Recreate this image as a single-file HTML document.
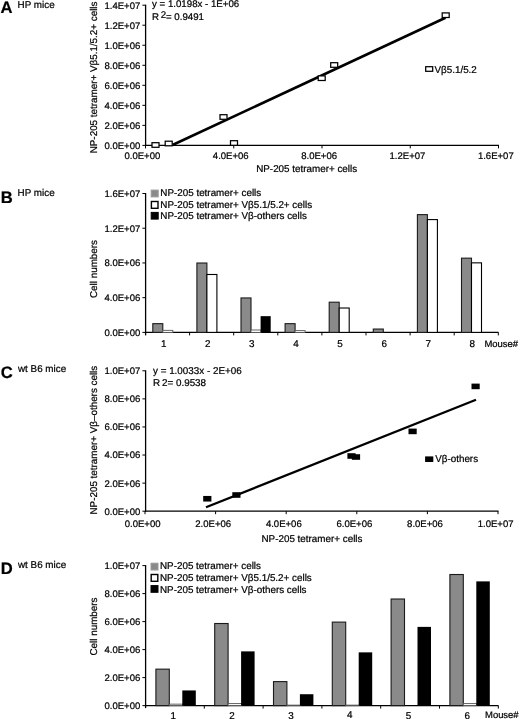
<!DOCTYPE html>
<html><head><meta charset="utf-8"><title>Figure</title>
<style>
html,body{margin:0;padding:0;background:#fff;}
body{width:520px;height:719px;overflow:hidden;}
svg{display:block;filter:blur(0.3px);text-rendering:geometricPrecision;font-family:"Liberation Sans",Arial,Helvetica,sans-serif;fill:#000;}
text{stroke:#000;stroke-width:0.22px;}
</style></head><body>
<svg width="520" height="719" viewBox="0 0 520 719">
<rect x="0" y="0" width="520" height="719" fill="#fff"/>
<text x="0.6" y="12.6" font-size="16.6" text-anchor="start" font-weight="bold">A</text>
<text x="17.6" y="7.6" font-size="9.85" text-anchor="start">HP mice</text>
<line x1="145.6" y1="4.7" x2="145.6" y2="146.0" stroke="#000" stroke-width="1.3"/>
<line x1="142.4" y1="145.40" x2="145.6" y2="145.40" stroke="#000" stroke-width="1"/>
<text x="140.3" y="148.8" font-size="9.55" text-anchor="end">0.0E+00</text>
<line x1="142.4" y1="125.37" x2="145.6" y2="125.37" stroke="#000" stroke-width="1"/>
<text x="140.3" y="128.77" font-size="9.55" text-anchor="end">2.0E+06</text>
<line x1="142.4" y1="105.34" x2="145.6" y2="105.34" stroke="#000" stroke-width="1"/>
<text x="140.3" y="108.74" font-size="9.55" text-anchor="end">4.0E+06</text>
<line x1="142.4" y1="85.31" x2="145.6" y2="85.31" stroke="#000" stroke-width="1"/>
<text x="140.3" y="88.71" font-size="9.55" text-anchor="end">6.0E+06</text>
<line x1="142.4" y1="65.29" x2="145.6" y2="65.29" stroke="#000" stroke-width="1"/>
<text x="140.3" y="68.69" font-size="9.55" text-anchor="end">8.0E+06</text>
<line x1="142.4" y1="45.26" x2="145.6" y2="45.26" stroke="#000" stroke-width="1"/>
<text x="140.3" y="48.66" font-size="9.55" text-anchor="end">1.0E+06</text>
<line x1="142.4" y1="25.23" x2="145.6" y2="25.23" stroke="#000" stroke-width="1"/>
<text x="140.3" y="28.63" font-size="9.55" text-anchor="end">1.2E+07</text>
<line x1="142.4" y1="5.20" x2="145.6" y2="5.20" stroke="#000" stroke-width="1"/>
<text x="140.3" y="8.6" font-size="9.55" text-anchor="end">1.4E+07</text>
<line x1="145.0" y1="145.4" x2="499" y2="145.4" stroke="#000" stroke-width="1.3"/>
<line x1="145.50" y1="145.4" x2="145.50" y2="148.4" stroke="#000" stroke-width="1"/>
<text x="142.4" y="158.5" font-size="9.55" text-anchor="middle">0.0E+00</text>
<line x1="233.75" y1="145.4" x2="233.75" y2="148.4" stroke="#000" stroke-width="1"/>
<text x="230.75" y="158.5" font-size="9.55" text-anchor="middle">4.0E+06</text>
<line x1="322.00" y1="145.4" x2="322.00" y2="148.4" stroke="#000" stroke-width="1"/>
<text x="319.1" y="158.5" font-size="9.55" text-anchor="middle">8.0E+06</text>
<line x1="410.25" y1="145.4" x2="410.25" y2="148.4" stroke="#000" stroke-width="1"/>
<text x="407.45" y="158.5" font-size="9.55" text-anchor="middle">1.2E+07</text>
<line x1="498.50" y1="145.4" x2="498.50" y2="148.4" stroke="#000" stroke-width="1"/>
<text x="495.8" y="158.5" font-size="9.55" text-anchor="middle">1.6E+07</text>
<text x="256.2" y="171.5" font-size="9.85" text-anchor="start">NP-205 tetramer+ cells</text>
<text transform="translate(96.8,153.3) rotate(-90)" font-size="9.85" text-anchor="start">NP-205 tetramer+ Vβ5.1/5.2+ cells</text>
<text x="152" y="7" font-size="9.7" text-anchor="start">y = 1.0198x - 1E+06</text>
<text x="152" y="20" font-size="9.7" text-anchor="start">R</text>
<text x="160.8" y="18" font-size="9.7" text-anchor="start">2</text>
<text x="166" y="20" font-size="9.7" text-anchor="start">= 0.9491</text>
<line x1="172.5" y1="145" x2="445.5" y2="17.8" stroke="#000" stroke-width="2.6"/>
<rect x="152.00" y="142.70" width="7" height="4.6" fill="#fff" stroke="#000" stroke-width="1.25"/>
<rect x="165.20" y="141.20" width="7" height="4.6" fill="#fff" stroke="#000" stroke-width="1.25"/>
<rect x="220.00" y="114.70" width="7" height="4.6" fill="#fff" stroke="#000" stroke-width="1.25"/>
<rect x="230.50" y="140.70" width="7" height="4.6" fill="#fff" stroke="#000" stroke-width="1.25"/>
<rect x="318.20" y="75.90" width="7" height="4.6" fill="#fff" stroke="#000" stroke-width="1.25"/>
<rect x="330.70" y="62.70" width="7" height="4.6" fill="#fff" stroke="#000" stroke-width="1.25"/>
<rect x="442.20" y="12.90" width="7" height="4.6" fill="#fff" stroke="#000" stroke-width="1.25"/>
<rect x="425.70" y="66.70" width="7" height="4.6" fill="#fff" stroke="#000" stroke-width="1.25"/>
<text x="434.5" y="72.5" font-size="9.85" text-anchor="start">Vβ5.1/5.2</text>
<text x="0.8" y="202.6" font-size="16.6" text-anchor="start" font-weight="bold">B</text>
<text x="17.6" y="195.5" font-size="9.85" text-anchor="start">HP mice</text>
<line x1="145.6" y1="193.0" x2="145.6" y2="335.4" stroke="#000" stroke-width="1.3"/>
<line x1="142.4" y1="332.40" x2="145.6" y2="332.40" stroke="#000" stroke-width="1"/>
<text x="140.3" y="335.8" font-size="9.55" text-anchor="end">0.0E+00</text>
<line x1="142.4" y1="297.67" x2="145.6" y2="297.67" stroke="#000" stroke-width="1"/>
<text x="140.3" y="301.07" font-size="9.55" text-anchor="end">4.0E+06</text>
<line x1="142.4" y1="262.95" x2="145.6" y2="262.95" stroke="#000" stroke-width="1"/>
<text x="140.3" y="266.35" font-size="9.55" text-anchor="end">8.0E+06</text>
<line x1="142.4" y1="228.22" x2="145.6" y2="228.22" stroke="#000" stroke-width="1"/>
<text x="140.3" y="231.62" font-size="9.55" text-anchor="end">1.2E+07</text>
<line x1="142.4" y1="193.50" x2="145.6" y2="193.50" stroke="#000" stroke-width="1"/>
<text x="140.3" y="196.9" font-size="9.55" text-anchor="end">1.6E+07</text>
<line x1="145.0" y1="332.4" x2="498.5" y2="332.4" stroke="#000" stroke-width="1.3"/>
<line x1="189.60" y1="332.4" x2="189.60" y2="335.4" stroke="#000" stroke-width="1"/>
<rect x="152.80" y="323.66" width="10.00" height="8.74" fill="#8a8a8a" stroke="#1a1a1a" stroke-width="1.1"/>
<rect x="162.80" y="330.35" width="10.00" height="2.05" fill="#fff" stroke="#555" stroke-width="0.9"/>
<line x1="233.70" y1="332.4" x2="233.70" y2="335.4" stroke="#000" stroke-width="1"/>
<rect x="196.90" y="263.02" width="10.00" height="69.38" fill="#8a8a8a" stroke="#1a1a1a" stroke-width="1.1"/>
<rect x="206.90" y="274.49" width="10.00" height="57.91" fill="#fff" stroke="#000" stroke-width="1.1"/>
<line x1="277.80" y1="332.4" x2="277.80" y2="335.4" stroke="#000" stroke-width="1"/>
<rect x="241.00" y="297.95" width="10.00" height="34.45" fill="#8a8a8a" stroke="#1a1a1a" stroke-width="1.1"/>
<rect x="251.00" y="330.00" width="10.00" height="2.40" fill="#fff" stroke="#555" stroke-width="0.9"/>
<rect x="260.60" y="316.16" width="10.10" height="16.24" fill="#000"/>
<line x1="321.90" y1="332.4" x2="321.90" y2="335.4" stroke="#000" stroke-width="1"/>
<rect x="285.10" y="323.66" width="10.00" height="8.74" fill="#8a8a8a" stroke="#1a1a1a" stroke-width="1.1"/>
<rect x="295.10" y="330.61" width="10.00" height="1.79" fill="#fff" stroke="#555" stroke-width="0.9"/>
<line x1="366.00" y1="332.4" x2="366.00" y2="335.4" stroke="#000" stroke-width="1"/>
<rect x="329.20" y="302.20" width="10.00" height="30.20" fill="#8a8a8a" stroke="#1a1a1a" stroke-width="1.1"/>
<rect x="339.20" y="308.02" width="10.00" height="24.38" fill="#fff" stroke="#000" stroke-width="1.1"/>
<line x1="410.10" y1="332.4" x2="410.10" y2="335.4" stroke="#000" stroke-width="1"/>
<rect x="373.30" y="329.05" width="10.00" height="3.35" fill="#8a8a8a" stroke="#1a1a1a" stroke-width="1.1"/>
<line x1="454.20" y1="332.4" x2="454.20" y2="335.4" stroke="#000" stroke-width="1"/>
<rect x="417.40" y="214.63" width="10.00" height="117.77" fill="#8a8a8a" stroke="#1a1a1a" stroke-width="1.1"/>
<rect x="427.40" y="219.59" width="10.00" height="112.81" fill="#fff" stroke="#000" stroke-width="1.1"/>
<line x1="498.30" y1="332.4" x2="498.30" y2="335.4" stroke="#000" stroke-width="1"/>
<rect x="461.50" y="258.16" width="10.00" height="74.24" fill="#8a8a8a" stroke="#1a1a1a" stroke-width="1.1"/>
<rect x="471.50" y="262.85" width="10.00" height="69.55" fill="#fff" stroke="#000" stroke-width="1.1"/>
<text x="163.65" y="347.2" font-size="9.85" text-anchor="middle">1</text>
<text x="207.75" y="347.2" font-size="9.85" text-anchor="middle">2</text>
<text x="251.85" y="347.2" font-size="9.85" text-anchor="middle">3</text>
<text x="295.95" y="347.2" font-size="9.85" text-anchor="middle">4</text>
<text x="340.05" y="347.2" font-size="9.85" text-anchor="middle">5</text>
<text x="384.15" y="347.2" font-size="9.85" text-anchor="middle">6</text>
<text x="428.25" y="347.2" font-size="9.85" text-anchor="middle">7</text>
<text x="472.35" y="347.2" font-size="9.85" text-anchor="middle">8</text>
<text x="518" y="347.2" font-size="9.45" text-anchor="end">Mouse#</text>
<text transform="translate(96.8,298) rotate(-90)" font-size="9.85" text-anchor="start">Cell numbers</text>
<rect x="151.2" y="190.1" width="7" height="6.8" fill="#8a8a8a" stroke="#999" stroke-width="1"/>
<text x="160.3" y="195.8" font-size="9.85" text-anchor="start">NP-205 tetramer+ cells</text>
<rect x="151.39999999999998" y="201.5" width="6.6" height="6.799999999999999" fill="#fff" stroke="#000" stroke-width="1.4"/>
<text x="160.3" y="207.6" font-size="9.85" text-anchor="start">NP-205 tetramer+ Vβ5.1/5.2+ cells</text>
<rect x="151.2" y="212.4" width="7" height="6.7" fill="#000" stroke="#000" stroke-width="1"/>
<text x="160.3" y="219.2" font-size="9.85" text-anchor="start">NP-205 tetramer+ Vβ-others cells</text>
<text x="0.8" y="377.8" font-size="16.6" text-anchor="start" font-weight="bold">C</text>
<text x="18" y="372" font-size="9.85" text-anchor="start">wt B6 mice</text>
<line x1="145.6" y1="370.3" x2="145.6" y2="511.8" stroke="#000" stroke-width="1.3"/>
<line x1="142.4" y1="511.20" x2="145.6" y2="511.20" stroke="#000" stroke-width="1"/>
<text x="140.3" y="514.6" font-size="9.55" text-anchor="end">0.0E+00</text>
<line x1="142.4" y1="483.12" x2="145.6" y2="483.12" stroke="#000" stroke-width="1"/>
<text x="140.3" y="486.52" font-size="9.55" text-anchor="end">2.0E+06</text>
<line x1="142.4" y1="455.04" x2="145.6" y2="455.04" stroke="#000" stroke-width="1"/>
<text x="140.3" y="458.44" font-size="9.55" text-anchor="end">4.0E+06</text>
<line x1="142.4" y1="426.96" x2="145.6" y2="426.96" stroke="#000" stroke-width="1"/>
<text x="140.3" y="430.36" font-size="9.55" text-anchor="end">6.0E+06</text>
<line x1="142.4" y1="398.88" x2="145.6" y2="398.88" stroke="#000" stroke-width="1"/>
<text x="140.3" y="402.28" font-size="9.55" text-anchor="end">8.0E+06</text>
<line x1="142.4" y1="370.80" x2="145.6" y2="370.80" stroke="#000" stroke-width="1"/>
<text x="140.3" y="374.2" font-size="9.55" text-anchor="end">1.0E+07</text>
<line x1="145.0" y1="511.2" x2="498.5" y2="511.2" stroke="#000" stroke-width="1.3"/>
<line x1="145.00" y1="511.2" x2="145.00" y2="514.2" stroke="#000" stroke-width="1"/>
<text x="142.6" y="526.5" font-size="9.55" text-anchor="middle">0.0E+00</text>
<line x1="215.60" y1="511.2" x2="215.60" y2="514.2" stroke="#000" stroke-width="1"/>
<text x="213.2" y="526.5" font-size="9.55" text-anchor="middle">2.0E+06</text>
<line x1="286.20" y1="511.2" x2="286.20" y2="514.2" stroke="#000" stroke-width="1"/>
<text x="283.8" y="526.5" font-size="9.55" text-anchor="middle">4.0E+06</text>
<line x1="356.80" y1="511.2" x2="356.80" y2="514.2" stroke="#000" stroke-width="1"/>
<text x="354.4" y="526.5" font-size="9.55" text-anchor="middle">6.0E+06</text>
<line x1="427.40" y1="511.2" x2="427.40" y2="514.2" stroke="#000" stroke-width="1"/>
<text x="425.0" y="526.5" font-size="9.55" text-anchor="middle">8.0E+06</text>
<line x1="498.00" y1="511.2" x2="498.00" y2="514.2" stroke="#000" stroke-width="1"/>
<text x="495.6" y="526.5" font-size="9.55" text-anchor="middle">1.0E+07</text>
<text x="261.5" y="542" font-size="9.85" text-anchor="start">NP-205 tetramer+ cells</text>
<text transform="translate(96.8,514.5) rotate(-90)" font-size="9.85" text-anchor="start">NP-205 tetramer+ Vβ–others cells</text>
<text x="153" y="373.8" font-size="9.85" text-anchor="start">y = 1.0033x - 2E+06</text>
<text x="153" y="385.9" font-size="9.85" text-anchor="start">R<tspan dx="1.9">2= 0.9538</tspan></text>
<line x1="206" y1="507.3" x2="476" y2="399.8" stroke="#000" stroke-width="2.3"/>
<rect x="203.20" y="495.95" width="8.2" height="5.6" fill="#000"/>
<rect x="232.30" y="492.20" width="8.2" height="5.6" fill="#000"/>
<rect x="347.40" y="453.20" width="8.2" height="5.6" fill="#000"/>
<rect x="351.90" y="454.20" width="8.2" height="5.6" fill="#000"/>
<rect x="408.50" y="428.60" width="8.2" height="5.6" fill="#000"/>
<rect x="471.50" y="383.60" width="8.2" height="5.6" fill="#000"/>
<rect x="425.10" y="456.40" width="8.2" height="5.6" fill="#000"/>
<text x="435.2" y="462.4" font-size="9.85" text-anchor="start">Vβ-others</text>
<text x="0.8" y="574.2" font-size="16.6" text-anchor="start" font-weight="bold">D</text>
<text x="18" y="568.3" font-size="9.85" text-anchor="start">wt B6 mice</text>
<line x1="145.6" y1="565.1" x2="145.6" y2="708.1" stroke="#000" stroke-width="1.3"/>
<line x1="142.4" y1="705.60" x2="145.6" y2="705.60" stroke="#000" stroke-width="1"/>
<text x="140.3" y="709.0" font-size="9.55" text-anchor="end">0.0E+00</text>
<line x1="142.4" y1="677.60" x2="145.6" y2="677.60" stroke="#000" stroke-width="1"/>
<text x="140.3" y="681.0" font-size="9.55" text-anchor="end">2.0E+06</text>
<line x1="142.4" y1="649.60" x2="145.6" y2="649.60" stroke="#000" stroke-width="1"/>
<text x="140.3" y="653.0" font-size="9.55" text-anchor="end">4.0E+06</text>
<line x1="142.4" y1="621.60" x2="145.6" y2="621.60" stroke="#000" stroke-width="1"/>
<text x="140.3" y="625.0" font-size="9.55" text-anchor="end">6.0E+06</text>
<line x1="142.4" y1="593.60" x2="145.6" y2="593.60" stroke="#000" stroke-width="1"/>
<text x="140.3" y="597.0" font-size="9.55" text-anchor="end">8.0E+06</text>
<line x1="142.4" y1="565.60" x2="145.6" y2="565.60" stroke="#000" stroke-width="1"/>
<text x="140.3" y="569.0" font-size="9.55" text-anchor="end">1.0E+07</text>
<line x1="145.0" y1="705.6" x2="498.5" y2="705.6" stroke="#000" stroke-width="1.3"/>
<line x1="204.30" y1="705.6" x2="204.30" y2="708.6" stroke="#000" stroke-width="1"/>
<rect x="155.90" y="669.15" width="13.40" height="36.45" fill="#8a8a8a" stroke="#1a1a1a" stroke-width="1.1"/>
<rect x="169.30" y="704.15" width="13.40" height="1.45" fill="#fff" stroke="#555" stroke-width="0.9"/>
<rect x="182.30" y="690.44" width="13.50" height="15.16" fill="#000"/>
<line x1="263.10" y1="705.6" x2="263.10" y2="708.6" stroke="#000" stroke-width="1"/>
<rect x="214.70" y="623.51" width="13.40" height="82.09" fill="#8a8a8a" stroke="#1a1a1a" stroke-width="1.1"/>
<rect x="228.10" y="703.59" width="13.40" height="2.01" fill="#fff" stroke="#555" stroke-width="0.9"/>
<rect x="241.10" y="651.38" width="13.50" height="54.22" fill="#000"/>
<line x1="321.90" y1="705.6" x2="321.90" y2="708.6" stroke="#000" stroke-width="1"/>
<rect x="273.50" y="681.61" width="13.40" height="23.99" fill="#8a8a8a" stroke="#1a1a1a" stroke-width="1.1"/>
<rect x="286.90" y="705.13" width="13.40" height="0.47" fill="#fff" stroke="#555" stroke-width="0.9"/>
<rect x="299.90" y="694.22" width="13.50" height="11.38" fill="#000"/>
<line x1="380.70" y1="705.6" x2="380.70" y2="708.6" stroke="#000" stroke-width="1"/>
<rect x="332.30" y="622.11" width="13.40" height="83.49" fill="#8a8a8a" stroke="#1a1a1a" stroke-width="1.1"/>
<rect x="345.70" y="705.13" width="13.40" height="0.47" fill="#fff" stroke="#555" stroke-width="0.9"/>
<rect x="358.70" y="652.36" width="13.50" height="53.24" fill="#000"/>
<line x1="439.50" y1="705.6" x2="439.50" y2="708.6" stroke="#000" stroke-width="1"/>
<rect x="391.10" y="599.01" width="13.40" height="106.59" fill="#8a8a8a" stroke="#1a1a1a" stroke-width="1.1"/>
<rect x="417.50" y="626.88" width="13.50" height="78.72" fill="#000"/>
<line x1="498.30" y1="705.6" x2="498.30" y2="708.6" stroke="#000" stroke-width="1"/>
<rect x="449.90" y="574.51" width="13.40" height="131.09" fill="#8a8a8a" stroke="#1a1a1a" stroke-width="1.1"/>
<rect x="463.30" y="703.59" width="13.40" height="2.01" fill="#fff" stroke="#555" stroke-width="0.9"/>
<rect x="476.30" y="581.38" width="13.50" height="124.22" fill="#000"/>
<text x="173.3" y="718.6" font-size="9.85" text-anchor="middle">1</text>
<text x="232.1" y="718.6" font-size="9.85" text-anchor="middle">2</text>
<text x="290.9" y="718.6" font-size="9.85" text-anchor="middle">3</text>
<text x="349.7" y="717.7" font-size="9.85" text-anchor="middle">4</text>
<text x="408.5" y="718.6" font-size="9.85" text-anchor="middle">5</text>
<text x="467.3" y="718.6" font-size="9.85" text-anchor="middle">6</text>
<text x="518.6" y="717.6" font-size="9.45" text-anchor="end">Mouse#</text>
<text transform="translate(96.8,655.5) rotate(-90)" font-size="9.85" text-anchor="start">Cell numbers</text>
<rect x="151.0" y="563.2" width="7" height="6.8" fill="#8a8a8a" stroke="#999" stroke-width="1"/>
<text x="160.0" y="569.4" font-size="9.85" text-anchor="start">NP-205 tetramer+ cells</text>
<rect x="151.2" y="574.5" width="6.6" height="6.799999999999999" fill="#fff" stroke="#000" stroke-width="1.4"/>
<text x="160.0" y="581" font-size="9.85" text-anchor="start">NP-205 tetramer+ Vβ5.1/5.2+ cells</text>
<rect x="151.0" y="585.6" width="7" height="6.7" fill="#000" stroke="#000" stroke-width="1"/>
<text x="160.0" y="592.5" font-size="9.85" text-anchor="start">NP-205 tetramer+ Vβ-others cells</text>
</svg>
</body></html>
